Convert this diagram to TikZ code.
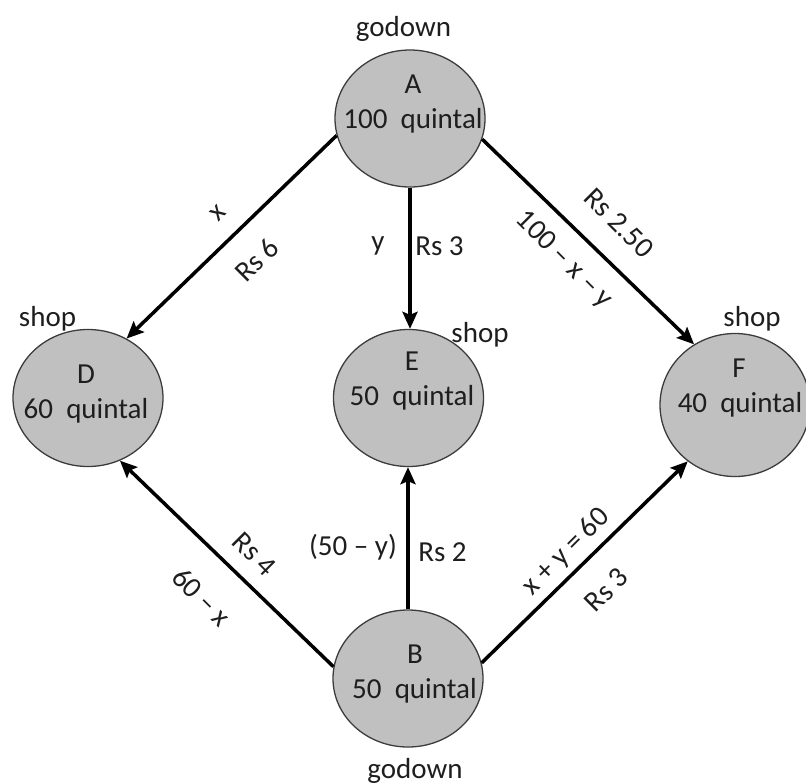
\documentclass[tikz,border=0pt]{standalone}
\usepackage{fontspec}
\setmainfont{Carlito}
\usetikzlibrary{shapes.geometric,arrows.meta}
\definecolor{nodefill}{RGB}{192,192,192}
\definecolor{nodeline}{RGB}{60,60,60}
\definecolor{ink}{RGB}{30,30,30}
\begin{document}
\begin{tikzpicture}[x=1pt,y=-1pt,
  place/.style={ellipse, draw=nodeline, line width=1.3pt, fill=nodefill,
    minimum width=150pt, minimum height=137pt, inner sep=0pt},
  txt/.style={font=\fontsize{29}{34}\selectfont, inner sep=0pt, text=ink},
  flow/.style={line width=3.5pt, draw=black, -{Stealth[length=17pt,width=15pt,inset=3pt]}},
]
\useasboundingbox (0,0) rectangle (806,782);
% places
\node[place] (A) at (410,118.5) {};
\node[place] (D) at (88,398) {};
\node[place] (E) at (408.5,398) {};
\node[place, minimum height=143pt] (F) at (735,405) {};
\node[place] (B) at (408,678.5) {};
% texts in/around places
\node[txt, anchor=base] (gA) at (403.5,36) {godown};
\node[txt, anchor=base] (tA1) at (413,93) {A};
\node[txt, anchor=base] (tA2) at (413,128) {100~~quintal};
\node[txt, anchor=base] (sD) at (47.5,326) {shop};
\node[txt, anchor=base] (tD1) at (86,383) {D};
\node[txt, anchor=base] (tD2) at (86,418) {60~~quintal};
\node[txt, anchor=base] (sE) at (480,342) {shop};
\node[txt, anchor=base] (tE1) at (412,370) {E};
\node[txt, anchor=base] (tE2) at (412,405) {50~~quintal};
\node[txt, anchor=base] (sF) at (752,326) {shop};
\node[txt, anchor=base] (tF1) at (739,377) {F};
\node[txt, anchor=base] (tF2) at (740,412) {40~~quintal};
\node[txt, anchor=base] (tB1) at (415,663) {B};
\node[txt, anchor=base] (tB2) at (414.5,698) {50~~quintal};
\node[txt, anchor=base] (gB) at (415,778) {godown};
% flows
\draw[flow] (A.193) -- (D.57);
\draw[flow] (A.south) -- (A.south |- E.north);
\draw[flow] (A.344) -- (F.124);
\draw[flow] (B.171) -- (D.297);
\draw[flow] (B.north) -- (B.north |- E.south);
\draw[flow] (B.12) -- (F.230);
% flow labels
\node[txt, rotate=45] (lAD1) at (218,213) {x};
\node[txt, rotate=45] (lAD2) at (256.5,260) {Rs 6};
\node[txt] (lAE1) at (378,246) {y};
\node[txt] (lAE2) at (439.5,246) {Rs 3};
\node[txt, rotate=-45] (lAF1) at (619,223) {Rs 2.50};
\node[txt, rotate=-45] (lAF2) at (564,260) {100 – x – y};
\node[txt, rotate=-45] (lBD1) at (254.5,554) {Rs 4};
\node[txt, rotate=-45] (lBD2) at (202,597) {60 – x};
\node[txt] (lBE1) at (353,547) {(50 – y)};
\node[txt] (lBE2) at (442.5,552) {Rs 2};
\node[txt, rotate=45] (lBF1) at (566.5,552) {x + y = 60};
\node[txt, rotate=45] (lBF2) at (606.5,590) {Rs 3};
\end{tikzpicture}
\end{document}
